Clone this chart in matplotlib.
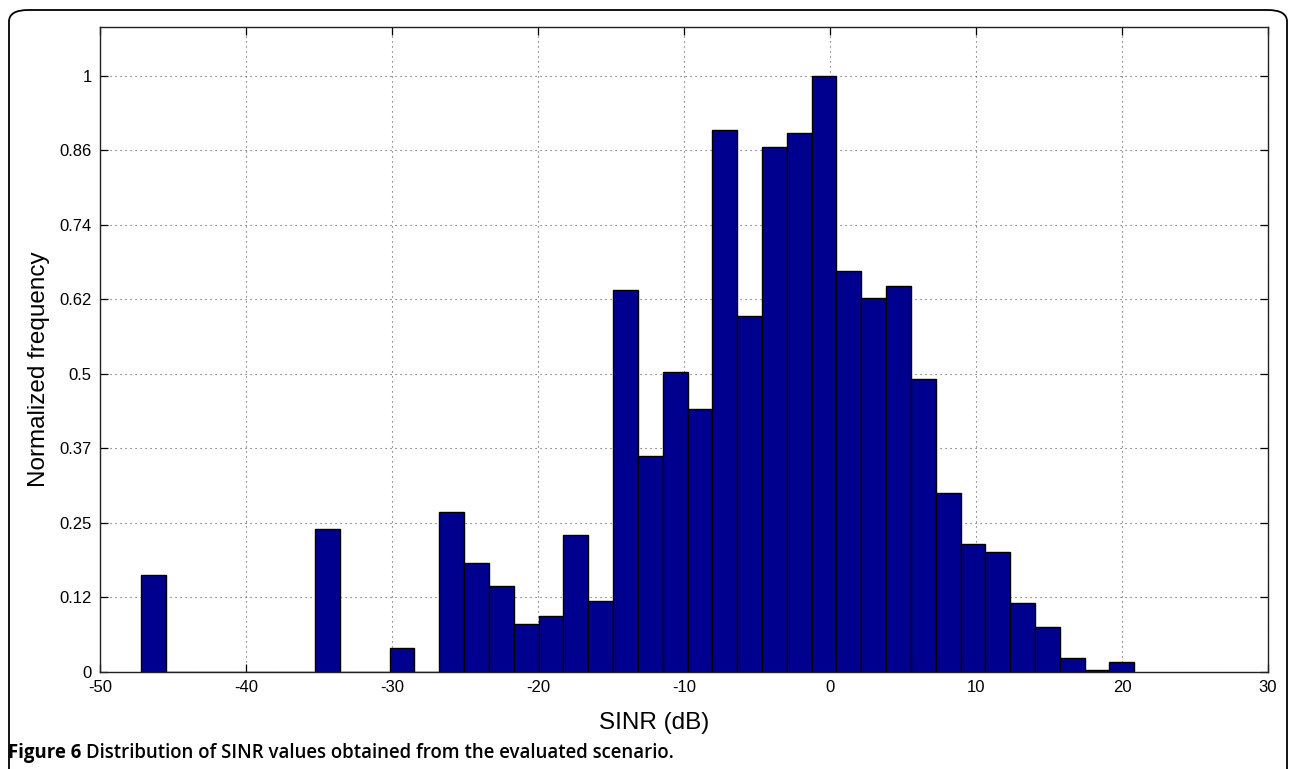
import numpy as np
import matplotlib
matplotlib.use("Agg")
import matplotlib.pyplot as plt
from matplotlib.patches import FancyBboxPatch

# ---- data ----
sinr_min = -47.16          # left edge of first histogram bin (dB)
bin_width = 1.70           # histogram bin width (dB)
norm_freq = [0.163, 0, 0, 0, 0, 0, 0, 0.240, 0, 0,
             0.041, 0, 0.268, 0.183, 0.144, 0.080, 0.094, 0.230, 0.119, 0.641,
             0.362, 0.503, 0.442, 0.909, 0.598, 0.881, 0.904, 1.000, 0.673, 0.628,
             0.648, 0.491, 0.300, 0.215, 0.201, 0.116, 0.075, 0.023, 0.003, 0.016]
xtick_vals = [-50, -40, -30, -20, -10, 0, 10, 20, 30]
ytick_vals = [0, 0.125, 0.25, 0.375, 0.5, 0.625, 0.75, 0.875, 1.0]
ytick_labels = ["0", "0.12", "0.25", "0.37", "0.5", "0.62", "0.74", "0.86", "1"]
x_label = "SINR (dB)"
y_label = "Normalized frequency"
caption_bold = "Figure 6"
caption_text = "Distribution of SINR values obtained from the evaluated scenario."

plt.rcParams['font.family'] = ['Liberation Sans', 'DejaVu Sans']

fig = plt.figure(figsize=(12.9, 7.69), dpi=100)
W, H = 1290, 769
ax = fig.add_axes([100 / W, 1 - 672 / H, 1168 / W, 645 / H])

left_edges = sinr_min + bin_width * np.arange(len(norm_freq))
ax.bar(left_edges, norm_freq, width=bin_width, align='edge',
       color='#00008f', edgecolor='black', linewidth=1.0, zorder=2)

ax.set_xlim(-50, 30)
ax.set_ylim(0, 1.082)
ax.set_xticks(xtick_vals)
ax.set_xticklabels([str(v) for v in xtick_vals])
ax.set_yticks(ytick_vals)
ax.set_yticklabels(ytick_labels)

ax.set_axisbelow(True)
ax.grid(True, color='#555555', linestyle=(0, (1, 3.5)), linewidth=0.8)
ax.tick_params(direction='in', top=True, right=True, length=6, width=0.9,
               labelsize=12, colors='black', pad=6)
for s in ax.spines.values():
    s.set_linewidth(1.0)
    s.set_color('#222222')

ax.set_xlabel(x_label, fontsize=17.5)
ax.xaxis.set_label_coords(0.474, -0.062)
ax.set_ylabel(y_label, fontsize=17.5)
ax.yaxis.set_label_coords(-0.043, 0.47)

# caption
cap_fs = 13.4
t1 = fig.text(8 / W, 1 - 753 / H, caption_bold + " ", fontsize=cap_fs, fontweight='bold',
              family=['Open Sans', 'DejaVu Sans'], va='center', ha='left')
fig.canvas.draw()
bb = t1.get_window_extent()
fig.text(bb.x1 / W, 1 - 753 / H, caption_text, fontsize=cap_fs, fontweight='semibold',
         family=['Open Sans', 'DejaVu Sans'], va='center', ha='left')

# rounded frame
frame = FancyBboxPatch((9 / W, -0.2), 1278 / W, 1.2 - 10 / H,
                       boxstyle="round,pad=0,rounding_size=0.015",
                       transform=fig.transFigure, fill=False,
                       edgecolor='black', linewidth=1.3, clip_on=False)
fig.patches.append(frame)

fig.savefig("out.png", dpi=100)
